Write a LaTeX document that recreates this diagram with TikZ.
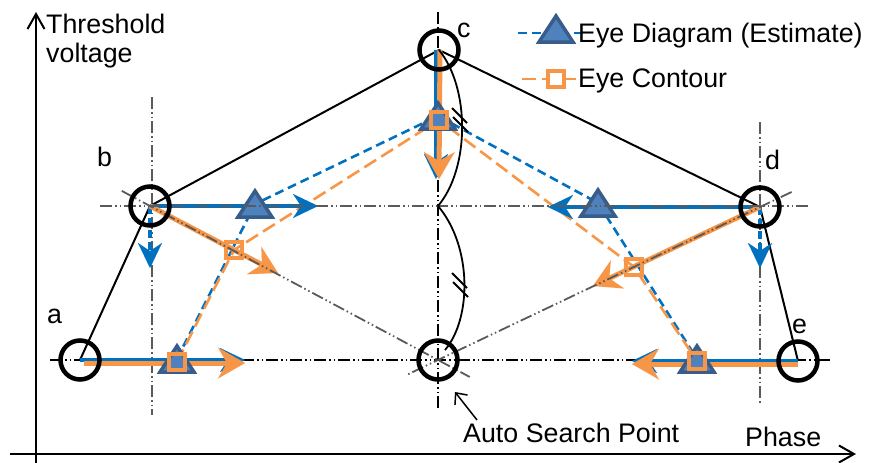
\documentclass[tikz,border=0pt]{standalone}
\usepackage{fontspec}
\setmainfont{Liberation Sans}
\usetikzlibrary{arrows.meta,calc}
\definecolor{eyeblue}{HTML}{0070C0}
\definecolor{eyeorange}{HTML}{F79646}
\definecolor{trifill}{HTML}{4F81BD}
\definecolor{tridraw}{HTML}{385D8A}
\definecolor{guidegray}{HTML}{5A5A5A}
\tikzset{
  lbl/.style={inner sep=0pt, anchor=base west},
  vcirc/.style={circle, draw=black, line width=4.5pt, minimum size=39pt, inner sep=0pt},
  guide/.style={line width=1.6pt, dash pattern=on 12pt off 3pt on 1.5pt off 3pt on 1.5pt off 3pt},
  polyline/.style={line width=2pt, line join=round},
  bluedash/.style={draw=eyeblue, line width=2.6pt, dash pattern=on 9pt off 5pt},
  orangedash/.style={draw=eyeorange, line width=2.6pt, dash pattern=on 14pt off 6pt},
  barrow/.style={draw=eyeblue, line width=3.5pt, -{Stealth[length=25pt,width=24pt,inset=8pt,line width=0.01pt]}},
  bdarrow/.style={barrow, dash pattern=on 8pt off 4pt},
  oarrow/.style={draw=eyeorange, line width=5pt, -{Stealth[length=27pt,width=31pt,inset=9pt,line width=0.01pt]}},
  axisline/.style={line width=2pt, -{Straight Barb[length=15pt,width=17pt,line width=2pt]}},
  tickmark/.style={line width=1.8pt},
  tri/.pic={\draw[fill=trifill, draw=tridraw, line width=3.5pt, line join=miter] (-17,13) -- (0,-13) -- (17,13) -- cycle;},
  sq/.pic={\draw[draw=eyeorange, line width=4pt] (-8,-8) rectangle (8,8);},
  sqw/.pic={\draw[draw=eyeorange, fill=white, line width=4pt] (-8,-8) rectangle (8,8);}
}
\begin{document}
\begin{tikzpicture}[x=1pt,y=-1pt, font=\fontsize{26.8}{31}\selectfont]
\useasboundingbox (0,0) rectangle (871,463);
% key points
\coordinate (a) at (80,360);
\coordinate (b) at (150,206);
\coordinate (c) at (439,50);
\coordinate (d) at (760,207);
\coordinate (e) at (798,361);
\coordinate (as) at (438,360);
\coordinate (mid) at (438,206);
% axes
\coordinate (yb) at (36,463);
\coordinate (yt) at (36,12);
\coordinate (xl) at (10,454);
\coordinate (xr) at (856,454);
\draw[axisline] (yb) -- (yt);
\draw[axisline] (xl) -- (xr);
% guides under
\coordinate (h2l) at (50,360);
\coordinate (h2r) at (830,360);
\draw[guide, black, line width=2pt] (h2l) -- (h2r);
\coordinate (v1t) at (152,97);
\coordinate (v1b) at (152,415);
\coordinate (v2t) at (760,122);
\coordinate (v2b) at (760,403);
\coordinate (v3t) at (438,12);
\coordinate (v3b) at (438,408);
\draw[guide, guidegray] (v1t) -- (v1b);
\draw[guide, guidegray] (v2t) -- (v2b);
\draw[guide, black] (v3t) -- (v3b);
% black polygon
\draw[polyline] (a) -- (b) -- (c) -- (d) -- (e);
% marker positions
\coordinate (t1) at (177,359);
\coordinate (t2) at (255,204);
\coordinate (t3) at (438,116);
\coordinate (t4) at (598,203);
\coordinate (t5) at (697,359);
\coordinate (s1) at (177,362);
\coordinate (s2) at (234,250);
\coordinate (s3) at (439,120);
\coordinate (s4) at (634,267);
\coordinate (s5) at (697,361);
% dashed curves
\draw[bluedash] (t1) -- (t2) -- (t3) -- (t4) -- (t5);
\draw[orangedash] (s1) -- (s2) -- (s3) -- (s4) -- (s5);
% arrows
\coordinate (ab) at (80,360);
\coordinate (abt) at (245,360);
\coordinate (ao) at (84,363);
\coordinate (aot) at (245,363);
\draw[barrow] (ab) -- (abt);
\draw[oarrow] (ao) -- (aot);
\coordinate (eb) at (798,361);
\coordinate (ebt) at (632,361);
\coordinate (eo) at (798,364);
\coordinate (eot) at (632,364);
\draw[barrow] (eb) -- (ebt);
\draw[oarrow] (eo) -- (eot);
\coordinate (cb) at (436,50);
\coordinate (cbt) at (436,179);
\coordinate (co) at (440,50);
\coordinate (cot) at (439,179);
\draw[barrow] (cb) -- (cbt);
\draw[oarrow] (co) -- (cot);
\coordinate (bR) at (318,206);
\coordinate (bD) at (150,268);
\coordinate (dL) at (548,207);
\coordinate (dD) at (760,268);
\draw[barrow] (b) -- (bR);
\draw[bdarrow] (b) -- (bD);
\draw[barrow] (d) -- (dL);
\draw[bdarrow] (d) -- (dD);
\coordinate (bO) at (278,273);
\coordinate (dO) at (593,286);
\draw[oarrow] (b) -- (bO);
\draw[oarrow] (d) -- (dO);
% markers
\pic at (t1) {tri};
\pic at (t2) {tri};
\pic at (t3) {tri};
\pic at (t4) {tri};
\pic at (t5) {tri};
\pic at (s1) {sq};
\pic at (s2) {sq};
\pic at (s3) {sq};
\pic at (s4) {sq};
\pic at (s5) {sq};
% guides over
\coordinate (h1l) at (100,206);
\coordinate (h1r) at (810,206);
\draw[guide, guidegray] (h1l) -- (h1r);
\draw[guide, guidegray, line width=1.8pt] ($(b)!-32pt!(as)$) -- ($(as)!-36pt!(b)$);
\draw[guide, guidegray, line width=1.8pt] ($(d)!-35pt!(as)$) -- ($(as)!-36pt!(d)$);
% circles
\node[vcirc] (ca) at (a) {};
\node[vcirc] (cbx) at (b) {};
\node[vcirc] (ccx) at (c) {};
\node[vcirc] (cdx) at (d) {};
\node[vcirc] (cex) at (e) {};
\node[vcirc] (cas) at (as) {};
% curves with tick marks
\coordinate (asend) at (445,350);
\draw[line width=1.8pt] (c) .. controls (470,88) and (470,168) .. (mid);
\draw[line width=1.8pt] (mid) .. controls (472,246) and (472,318) .. (asend);
\coordinate (tk1a) at (452,108); \coordinate (tk1b) at (467,123);
\coordinate (tk2a) at (453,117); \coordinate (tk2b) at (468,132);
\coordinate (tk3a) at (452,273); \coordinate (tk3b) at (467,288);
\coordinate (tk4a) at (453,282); \coordinate (tk4b) at (468,297);
\draw[tickmark] (tk1a) -- (tk1b);
\draw[tickmark] (tk2a) -- (tk2b);
\draw[tickmark] (tk3a) -- (tk3b);
\draw[tickmark] (tk4a) -- (tk4b);
% labels
\node[lbl] (lthr) at (46,34) {Threshold};
\node[lbl] (lvol) at (46,62) {voltage};
\node[lbl] (la) at (47,323) {a};
\node[lbl] (lb) at (97,166) {b};
\node[lbl] (lc) at (457,37) {c};
\node[lbl] (ld) at (765,169) {d};
\node[lbl] (le) at (792,333) {e};
\node[lbl] (lphase) at (745,446) {Phase};
\node[lbl] (lauto) at (463,442) {Auto Search Point};
\coordinate (asa) at (477,420);
\coordinate (asp) at (455,392);
\draw[line width=1.5pt, -{Straight Barb[length=9pt,width=16pt,line width=1.5pt]}] (asa) -- (asp);
% legend
\coordinate (lg1a) at (518,33);
\coordinate (lg1b) at (583,33);
\coordinate (lg2a) at (522,79);
\coordinate (lg2b) at (583,79);
\draw[bluedash] (lg1a) -- (lg1b);
\pic at (556,29) {tri};
\draw[orangedash] (lg2a) -- (lg2b);
\pic at (556,79) {sqw};
\node[lbl] (lg1) at (578,42) {Eye Diagram (Estimate)};
\node[lbl] (lg2) at (578,87) {Eye Contour};
\end{tikzpicture}
\end{document}
